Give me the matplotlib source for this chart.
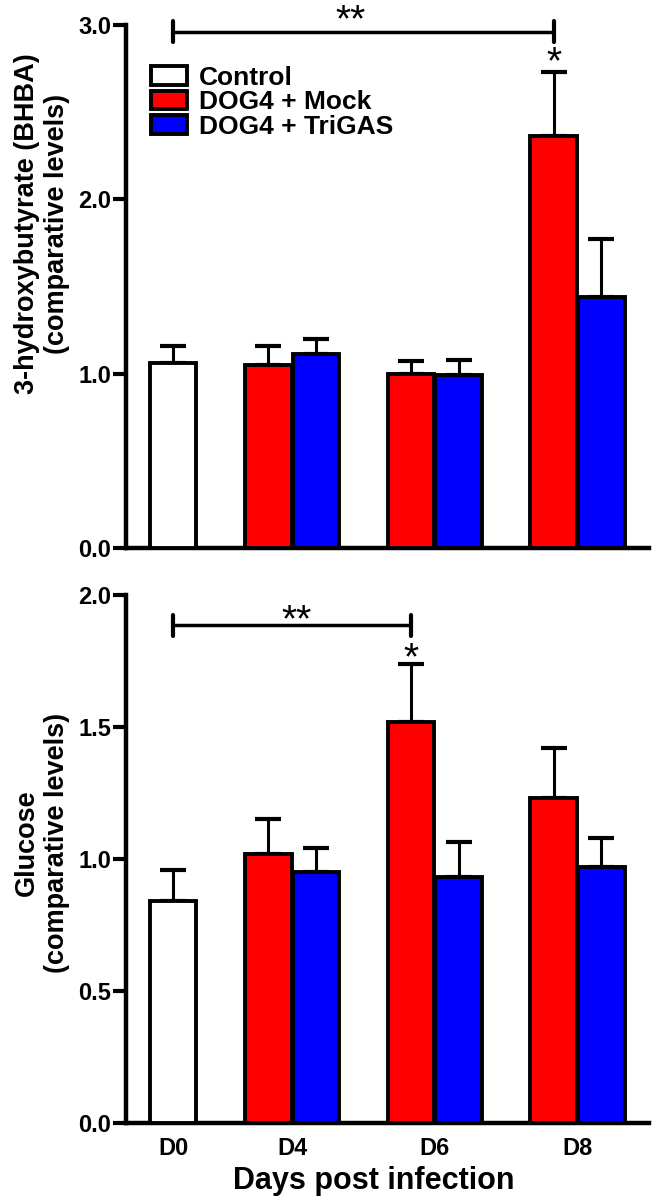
import matplotlib
matplotlib.use("Agg")
import matplotlib.pyplot as plt
from matplotlib.patches import Patch

plt.rcParams['font.family'] = ['Liberation Sans', 'DejaVu Sans']
plt.rcParams['font.weight'] = 'bold'
plt.rcParams['axes.labelweight'] = 'bold'

# data
days = ['D0', 'D4', 'D6', 'D8']
groups = ['Control', 'DOG4 + Mock', 'DOG4 + TriGAS']
colors = ['white', '#ff0000', '#0000ff']

bhba_control = [1.06]
bhba_control_err = [0.10]
bhba_mock = [1.05, 1.00, 2.36]
bhba_mock_err = [0.11, 0.07, 0.37]
bhba_trigas = [1.11, 0.99, 1.44]
bhba_trigas_err = [0.09, 0.09, 0.33]

glucose_control = [0.84]
glucose_control_err = [0.12]
glucose_mock = [1.02, 1.52, 1.23]
glucose_mock_err = [0.13, 0.22, 0.19]
glucose_trigas = [0.95, 0.93, 0.97]
glucose_trigas_err = [0.09, 0.135, 0.11]

# bar slots: control, gap, mock, trigas, gap, mock, trigas, ...
x_control = [0]
x_mock = [2, 5, 8]
x_trigas = [3, 6, 9]
x_ticks = [0, 2.5, 5.5, 8.5]

LW = 2.8
BW = 0.98


def draw_panel(ax, ctrl, ctrl_err, mock, mock_err, tri, tri_err, ymax, yticks):
    for xs, vals, errs, c in [(x_control, ctrl, ctrl_err, colors[0]),
                              (x_mock, mock, mock_err, colors[1]),
                              (x_trigas, tri, tri_err, colors[2])]:
        ax.bar(xs, vals, width=BW, color=c, edgecolor='black', linewidth=LW, zorder=3)
        ax.errorbar(xs, vals, yerr=[[0] * len(vals), errs], fmt='none', ecolor='black',
                    elinewidth=2.2, capsize=9.7, capthick=3, zorder=2)
    ax.set_xlim(-0.99, 10.0)
    ax.set_ylim(0, ymax)
    ax.set_yticks(yticks)
    ax.set_yticklabels(['%.1f' % t for t in yticks])
    ax.set_xticks(x_ticks)
    for s in ['top', 'right']:
        ax.spines[s].set_visible(False)
    for s in ['left', 'bottom']:
        ax.spines[s].set_linewidth(3.2)
    ax.tick_params(axis='y', length=9.5, width=3, pad=1, labelsize=17)
    ax.tick_params(axis='x', length=0, pad=10, labelsize=17)


def bracket(ax, x0, x1, y, h):
    ax.plot([x0, x1], [y, y], color='black', lw=2.5, clip_on=False, solid_capstyle='butt')
    for xe in (x0, x1):
        ax.plot([xe, xe], [y - h, y + h], color='black', lw=3, clip_on=False,
                solid_capstyle='round')


fig = plt.figure(figsize=(6.58, 12.04), dpi=100)
ax1 = fig.add_axes([0.1915, 0.5449, 0.7948, 0.4344])
ax2 = fig.add_axes([0.1915, 0.0673, 0.7948, 0.4385])

draw_panel(ax1, bhba_control, bhba_control_err, bhba_mock, bhba_mock_err,
           bhba_trigas, bhba_trigas_err, 3.0, [0.0, 1.0, 2.0, 3.0])
ax1.set_xticklabels([])
ax1.set_ylabel('3-hydroxybutyrate (BHBA)\n(comparative levels)', fontsize=19.5)
ax1.yaxis.set_label_coords(-0.107, 0.62)

draw_panel(ax2, glucose_control, glucose_control_err, glucose_mock, glucose_mock_err,
           glucose_trigas, glucose_trigas_err, 2.0, [0.0, 0.5, 1.0, 1.5, 2.0])
ax2.set_xticklabels(days)
ax2.set_ylabel('Glucose\n(comparative levels)', fontsize=19.5)
ax2.yaxis.set_label_coords(-0.107, 0.53)
ax2.set_xlabel('Days post infection', fontsize=22)
ax2.xaxis.set_label_coords(0.474, -0.082)

# significance marks
bracket(ax1, x_control[0], x_mock[2], 2.96, 0.06)
ax1.text(3.72, 2.965, '**', fontsize=28, fontweight='normal', ha='center', va='baseline')
ax1.text(x_mock[2], 2.72, '*', fontsize=28, fontweight='normal', ha='center', va='baseline')

bracket(ax2, x_control[0], x_mock[1], 1.886, 0.04)
ax2.text(2.6, 1.864, '**', fontsize=28, fontweight='normal', ha='center', va='baseline')
ax2.text(x_mock[1], 1.72, '*', fontsize=28, fontweight='normal', ha='center', va='baseline')

handles = [Patch(facecolor=c, edgecolor='black', linewidth=LW) for c in colors]
ax1.legend(handles, groups, loc='upper left', bbox_to_anchor=(0.048, 0.922), frameon=False,
           prop={'size': 19, 'weight': 'bold'}, handlelength=1.35, handleheight=0.68,
           handletextpad=0.45, labelspacing=0.02, borderpad=0, borderaxespad=0)

fig.savefig('out.png', dpi=100)
